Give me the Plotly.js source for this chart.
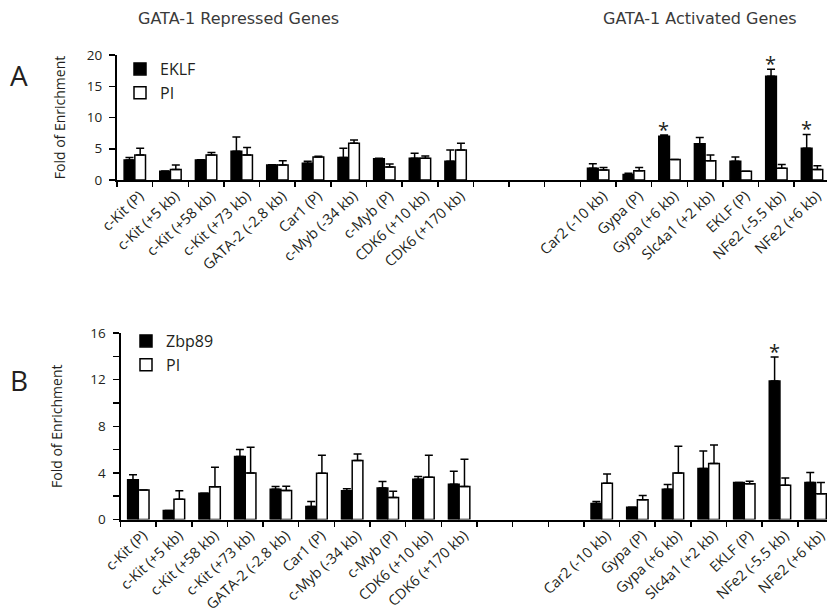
<!DOCTYPE html>
<html>
<head>
<meta charset="utf-8">
<script src="https://cdn.plot.ly/plotly-3.0.1.min.js"></script>
<style>html,body{margin:0;padding:0;background:#fff;}#chart{width:827px;height:612px;}</style>
</head>
<body>
<div id="chart"></div>
<script>
// ---- data ----
const repressedGenes = ["c-Kit (P)", "c-Kit (+5 kb)", "c-Kit (+58 kb)", "c-Kit (+73 kb)", "GATA-2 (-2.8 kb)", "Car1 (P)", "c-Myb (-34 kb)", "c-Myb (P)", "CDK6 (+10 kb)", "CDK6 (+170 kb)"];
const spacerSlots = [" ", "  ", "   "];
const activatedGenes = ["Car2 (-10 kb)", "Gypa (P)", "Gypa (+6 kb)", "Slc4a1 (+2 kb)", "EKLF (P)", "NFe2 (-5.5 kb)", "NFe2 (+6 kb)"];

// Panel A (EKLF ChIP)
const eklfA    = [3.2, 1.4, 3.2, 4.6, 2.4, 2.7, 3.6, 3.4, 3.5, 3.0,   1.9, 0.9, 7.0, 5.8, 3.0, 16.6, 5.1];
const eklfAErr = [0.4, 0.05, 0.05, 2.3, 0.05, 0.3, 1.5, 0.1, 0.8, 1.8, 0.7, 0.2, 0.2, 1.0, 0.7, 1.1, 2.2];
const piA      = [4.0, 1.7, 4.0, 4.0, 2.4, 3.7, 5.9, 2.1, 3.5, 4.8,   1.6, 1.5, 3.3, 3.1, 1.4, 1.9, 1.7];
const piAErr   = [1.1, 0.7, 0.4, 1.2, 0.7, 0.1, 0.5, 0.45, 0.35, 1.1, 0.4, 0.5, 0, 0.9, 0, 0.6, 0.6];
const starsA   = ["Gypa (+6 kb)", "NFe2 (-5.5 kb)", "NFe2 (+6 kb)"];

// Panel B (Zbp89 ChIP)
const zbpB     = [3.4, 0.77, 2.26, 5.4, 2.6, 1.11, 2.46, 2.71, 3.46, 3.03,  1.37, 1.06, 2.6, 4.37, 3.17, 11.88, 3.17];
const zbpBErr  = [0.43, 0, 0, 0.6, 0.23, 0.43, 0.17, 0.55, 0.23, 1.1,      0.17, 0, 0.4, 1.5, 0, 2.07, 0.86];
const piB      = [2.54, 1.74, 2.8, 4.0, 2.49, 3.97, 5.06, 1.89, 3.63, 2.83, 3.11, 1.69, 4.0, 4.8, 3.06, 2.94, 2.2];
const piBErr   = [0, 0.72, 1.69, 2.2, 0.37, 1.54, 0.57, 0.54, 1.88, 2.34,   0.8, 0.37, 2.29, 1.6, 0.23, 0.63, 0.97];
const starsB   = ["NFe2 (-5.5 kb)"];

const headerLeft = "GATA-1 Repressed Genes";
const headerRight = "GATA-1 Activated Genes";
const yTitle = "Fold of Enrichment";

// ---- build ----
const genes = repressedGenes.concat(activatedGenes);
const slots = repressedGenes.concat(spacerSlots, activatedGenes);
function onSlots(vals) {
  return slots.map(s => { const i = genes.indexOf(s); return i < 0 ? null : vals[i]; });
}
const TXT = '#231f20';
const FONT = 'Open Sans, Noto Sans, sans-serif';

function barTrace(name, vals, errs, filled, xa, ya, legend) {
  return {
    type: 'bar', name: name, x: slots, y: onSlots(vals),
    xaxis: xa, yaxis: ya, legend: legend, legendgroup: name + xa,
    marker: { color: filled ? '#000000' : '#ffffff', line: { color: '#000000', width: 1.5 } },
    error_y: { type: 'data', symmetric: false, array: onSlots(errs), arrayminus: onSlots(errs.map(() => 0)),
               color: '#000000', thickness: 1.5, width: 4 },
    hoverinfo: 'x+y'
  };
}

const data = [
  barTrace('EKLF', eklfA, eklfAErr, true, 'x', 'y', 'legend'),
  barTrace('PI', piA, piAErr, false, 'x', 'y', 'legend'),
  barTrace('Zbp89', zbpB, zbpBErr, true, 'x2', 'y2', 'legend2'),
  barTrace('PI', piB, piBErr, false, 'x2', 'y2', 'legend2')
];

const W = 827, H = 612, ML = 117;
const pxX = p => (p - ML) / (W - ML);
const pxY = p => 1 - p / H;

function xAxis(domain, anchor, rangeEnd) {
  return {
    domain: domain, anchor: anchor, type: 'category',
    categoryorder: 'array', categoryarray: slots,
    range: [-0.5, rangeEnd], tickson: 'boundaries',
    ticks: 'outside', ticklen: 5, tickwidth: 1.5, tickcolor: '#000',
    showline: true, linecolor: '#000', linewidth: 2,
    tickangle: -43, tickfont: { family: FONT, size: 14.5, color: TXT },
    ticklabelshift: 5, ticklabelstandoff: 0,
    showgrid: false, zeroline: false, fixedrange: true
  };
}
function yAxis(domain, anchor, range, dtick, minor, standoff) {
  const ax = {
    domain: domain, anchor: anchor, range: range, dtick: dtick, tick0: 0,
    ticks: 'outside', ticklen: 6, tickwidth: 1.5, tickcolor: '#000',
    showline: true, linecolor: '#000', linewidth: 2,
    tickfont: { family: FONT, size: 13.5, color: TXT }, ticklabelstandoff: 4,
    showgrid: false, zeroline: false, fixedrange: true,
    title: { text: yTitle, font: { family: FONT, size: 14, color: TXT }, standoff: standoff }
  };
  if (minor) ax.minor = { dtick: minor, ticks: 'outside', ticklen: 6, tickwidth: 1.5, tickcolor: '#000', showgrid: false };
  return ax;
}

const annotations = [];
function addStars(list, vals, errs, xa, ya) {
  list.forEach(g => {
    const i = genes.indexOf(g);
    annotations.push({ x: g, y: vals[i] + errs[i], xref: xa, yref: ya, text: '*', showarrow: false,
      xshift: -5.5, xanchor: 'center', yanchor: 'bottom', yshift: -10, font: { family: FONT, size: 20, color: TXT } });
  });
}
addStars(starsA, eklfA, eklfAErr, 'x', 'y');
addStars(starsB, zbpB, zbpBErr, 'x2', 'y2');

annotations.push(
  { text: headerLeft, xref: 'paper', yref: 'paper', x: pxX(238), y: pxY(18), xanchor: 'center', yanchor: 'middle',
    showarrow: false, font: { family: 'DejaVu Sans, sans-serif', size: 16, color: '#3a3a3a' } },
  { text: headerRight, xref: 'paper', yref: 'paper', x: pxX(700), y: pxY(18), xanchor: 'center', yanchor: 'middle',
    showarrow: false, font: { family: 'DejaVu Sans, sans-serif', size: 16, color: '#3a3a3a' } },
  { text: 'A', xref: 'paper', yref: 'paper', x: pxX(19), y: pxY(75), xanchor: 'center', yanchor: 'middle',
    showarrow: false, font: { family: FONT, size: 28, color: TXT } },
  { text: 'B', xref: 'paper', yref: 'paper', x: pxX(19), y: pxY(380), xanchor: 'center', yanchor: 'middle',
    showarrow: false, font: { family: FONT, size: 28, color: TXT } }
);

const layout = {
  width: W, height: H,
  margin: { l: ML, r: 0, t: 0, b: 0, pad: 0 },
  paper_bgcolor: '#fff', plot_bgcolor: '#fff',
  barmode: 'group', bargap: 0.4, bargroupgap: 0,
  font: { family: FONT, color: TXT },
  xaxis: xAxis([0, 1], 'y', 19.42),
  yaxis: yAxis([pxY(180), pxY(55)], 'x', [0, 20], 5, null, 18),
  xaxis2: xAxis([pxX(120.5), 1], 'y2', 19.32),
  yaxis2: yAxis([pxY(519.5), pxY(333)], 'x2', [0, 16], 4, 2, 24),
  legend: { x: pxX(120), y: pxY(52), xanchor: 'left', yanchor: 'top', bgcolor: 'rgba(0,0,0,0)',
            font: { family: FONT, size: 16, color: TXT }, tracegroupgap: 4, traceorder: 'normal' },
  legend2: { x: pxX(126), y: pxY(324), xanchor: 'left', yanchor: 'top', bgcolor: 'rgba(0,0,0,0)',
            font: { family: FONT, size: 16, color: TXT }, tracegroupgap: 2, traceorder: 'normal' },
  annotations: annotations,
  showlegend: true
};

Plotly.newPlot('chart', data, layout, { displayModeBar: false, staticPlot: true });
</script>
</body>
</html>
